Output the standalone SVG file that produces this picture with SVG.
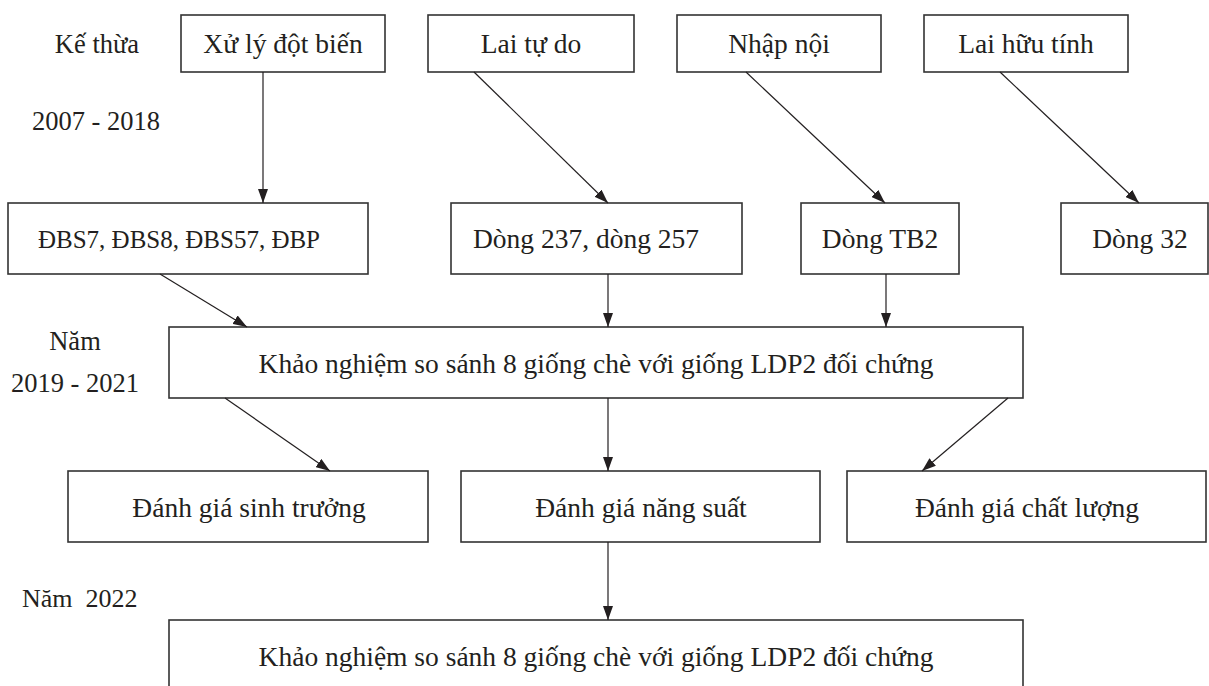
<svg xmlns="http://www.w3.org/2000/svg" width="1209" height="686" viewBox="0 0 1209 686">
<style>
.box{fill:#fff;stroke:#333;stroke-width:1.6}
.t{font-family:"Liberation Serif",serif;font-size:27.5px;fill:#231f20;text-anchor:middle}
.lb{font-family:"Liberation Serif",serif;font-size:26.5px;fill:#231f20;text-anchor:middle}
.l{font-family:"Liberation Serif",serif;font-size:26px;fill:#231f20}
.c{stroke:#231f20;stroke-width:1.2;fill:none;marker-end:url(#ah)}
</style>
<defs>
<marker id="ah" viewBox="0 0 14 10" refX="14" refY="5" markerWidth="14" markerHeight="10" markerUnits="userSpaceOnUse" orient="auto">
<path d="M0,0 L14,5 L0,10 Z" fill="#231f20"/>
</marker>
</defs>
<rect width="1209" height="686" fill="#fff"/>
<g id="labels">
<text class="lb" x="97" y="53">Kế thừa</text>
<text class="lb" x="96" y="130">2007 - 2018</text>
<text class="lb" x="75" y="350">Năm</text>
<text class="lb" x="75" y="392">2019 - 2021</text>
<text class="l" x="22" y="607" xml:space="preserve">Năm  2022</text>
</g>
<g id="n_xuly"><rect class="box" x="181" y="15" width="204" height="57"/><text class="t" x="283" y="53">Xử lý đột biến</text></g>
<g id="n_laitudo"><rect class="box" x="428" y="15" width="206" height="57"/><text class="t" x="531" y="53">Lai tự do</text></g>
<g id="n_nhapnoi"><rect class="box" x="677" y="15" width="204" height="57"/><text class="t" x="779" y="53">Nhập nội</text></g>
<g id="n_laihuutinh"><rect class="box" x="924" y="15" width="204" height="57"/><text class="t" x="1026" y="53">Lai hữu tính</text></g>
<g id="n_dbs"><rect class="box" x="8" y="203" width="360" height="71"/><text class="t" x="179" y="248" style="font-size:25px">ĐBS7, ĐBS8, ĐBS57, ĐBP</text></g>
<g id="n_dong237"><rect class="box" x="451" y="203" width="291" height="71"/><text class="t" x="586" y="248">Dòng 237, dòng 257</text></g>
<g id="n_tb2"><rect class="box" x="801" y="203" width="158" height="71"/><text class="t" x="880" y="248">Dòng TB2</text></g>
<g id="n_dong32"><rect class="box" x="1061" y="203" width="147" height="71"/><text class="t" x="1140" y="248">Dòng 32</text></g>
<g id="n_khao1"><rect class="box" x="169" y="327" width="854" height="71"/><text class="t" x="596" y="373">Khảo nghiệm so sánh 8 giống chè với giống LDP2 đối chứng</text></g>
<g id="n_sinhtruong"><rect class="box" x="68" y="471" width="360" height="71"/><text class="t" x="249" y="517">Đánh giá sinh trưởng</text></g>
<g id="n_nangsuat"><rect class="box" x="461" y="471" width="359" height="71"/><text class="t" x="641" y="517">Đánh giá năng suất</text></g>
<g id="n_chatluong"><rect class="box" x="847" y="471" width="359" height="71"/><text class="t" x="1027" y="517">Đánh giá chất lượng</text></g>
<g id="n_khao2"><rect class="box" x="169" y="620" width="854" height="75"/><text class="t" x="596" y="666">Khảo nghiệm so sánh 8 giống chè với giống LDP2 đối chứng</text></g>
<g id="connectors">
<line class="c" x1="263" y1="72" x2="263" y2="203"/>
<line class="c" x1="474" y1="72" x2="608" y2="203"/>
<line class="c" x1="746" y1="72" x2="885" y2="203"/>
<line class="c" x1="1000" y1="72" x2="1139" y2="203"/>
<line class="c" x1="160" y1="274" x2="247" y2="327"/>
<line class="c" x1="608" y1="274" x2="608" y2="327"/>
<line class="c" x1="886" y1="274" x2="886" y2="327"/>
<line class="c" x1="225" y1="398" x2="330" y2="471"/>
<line class="c" x1="608" y1="398" x2="608" y2="471"/>
<line class="c" x1="1008" y1="398" x2="922" y2="471"/>
<line class="c" x1="608" y1="542" x2="608" y2="620"/>
</g>
</svg>
